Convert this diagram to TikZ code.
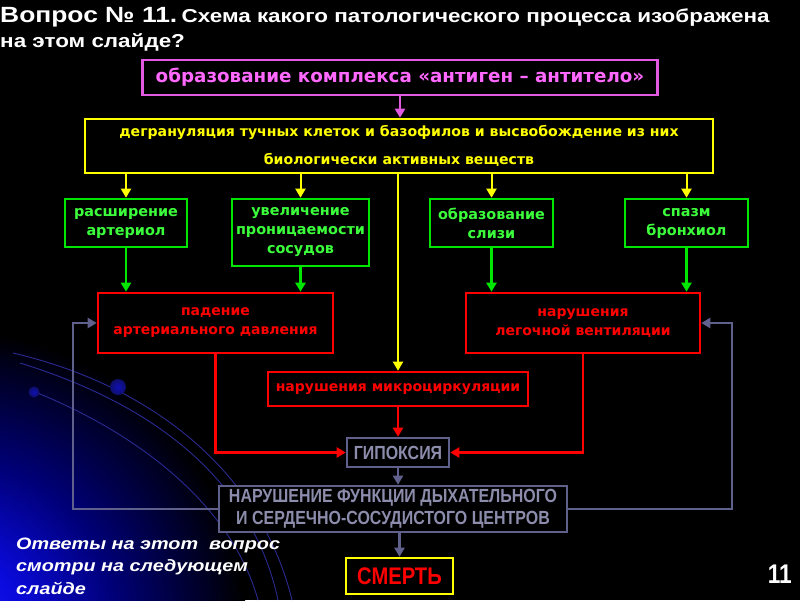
\documentclass[tikz,border=0pt]{standalone}
\usepackage{fontspec}
\setmainfont{Liberation Sans}
\newfontfamily\boxfont{DejaVu Sans}
\newfontfamily\widefont[FakeStretch=1.2]{Liberation Sans}
\newfontfamily\narrowfont[FakeStretch=0.84]{Liberation Sans}
\usetikzlibrary{arrows.meta, calc}

\definecolor{magline}{RGB}{225,90,225}
\definecolor{magtext}{RGB}{255,105,255}
\definecolor{ylw}{RGB}{255,255,0}
\definecolor{grn}{RGB}{0,230,0}
\definecolor{grntext}{RGB}{60,255,60}
\definecolor{rd}{RGB}{255,0,0}
\definecolor{slate}{RGB}{96,96,140}
\definecolor{slatetext}{RGB}{140,140,172}
\definecolor{glowa}{RGB}{25,25,255}
\definecolor{glowb}{RGB}{10,10,220}
\definecolor{glowc}{RGB}{0,0,120}
\definecolor{glowd}{RGB}{0,0,35}
\definecolor{arcblue}{RGB}{42,42,145}
\definecolor{ballblue}{RGB}{22,22,150}
\pgfdeclareradialshading{glow}{\pgfpoint{0bp}{0bp}}{color(0bp)=(glowa);
  color(6bp)=(glowb); color(14bp)=(glowc); color(22bp)=(glowd);
  color(25bp)=(black); color(50bp)=(black)}

\begin{document}
\begin{tikzpicture}[
  x=1pt, y=-1pt,
  box/.style={draw, line width=2.6pt, fill=black, align=center, inner sep=2pt,
    font=\boxfont\bfseries\fontsize{14}{19}\selectfont},
  magbox/.style={box, draw=magline, text=magtext,
    font=\boxfont\bfseries\fontsize{18.3}{20}\selectfont},
  ylwbox/.style={box, draw=ylw, text=ylw,
    font=\boxfont\bfseries\fontsize{14.1}{28}\selectfont},
  grnbox/.style={box, draw=grn, text=grntext,
    font=\boxfont\bfseries\fontsize{14.4}{19}\selectfont},
  redbox/.style={box, draw=rd, text=rd},
  slbox/.style={box, draw=slate, text=slatetext,
    font=\narrowfont\bfseries\fontsize{19}{21.5}\selectfont},
  deathbox/.style={box, draw=ylw, text=rd,
    font=\narrowfont\bfseries\fontsize{24}{24}\selectfont},
  arr/.style={-{Triangle[length=9pt, width=10pt]}, line width=2.6pt},
  swirl/.style={draw=arcblue, line width=0.9pt}
]
  \useasboundingbox (0,0) rectangle (800,600);
  \fill[black] (0,0) rectangle (800,600);

  % blue corner
  \begin{scope}
    \clip (0,0) rectangle (800,600);
    \shade[shading=glow] (-345,330) rectangle (245,920);
    \draw[swirl] (13,353) .. controls (150,385) and (260,470) .. (292,600);
    \draw[swirl] (20,363) .. controls (140,400) and (250,470) .. (278,600);
    \draw[swirl] (35,392) .. controls (130,430) and (230,500) .. (258,600);
  \end{scope}
  \shade[inner color=ballblue!70!blue, outer color=ballblue!70!black] (118,387) circle (8);
  \shade[inner color=ballblue!70!blue, outer color=ballblue!70!black] (34,392) circle (5.5);

  % title
  \node[anchor=base west, inner sep=0, text=white,
    font=\widefont\bfseries] (q1) at (0,22)
    {{\fontsize{22}{22}\selectfont Вопрос\ № 11.}
     \fontsize{18.7}{20}\selectfont Схема какого патологического процесса изображена};
  \node[anchor=base west, inner sep=0, text=white,
    font=\widefont\bfseries\fontsize{18.7}{20}\selectfont] (q2) at (0,47)
    {на этом слайде?};

  % boxes
  \node[magbox, minimum width=515, minimum height=35] (ag) at (400,77.5)
    {образование комплекса «антиген – антитело»};
  \node[ylwbox, minimum width=628, minimum height=54] (degr) at (399,146)
    {дегрануляция тучных клеток и базофилов и высвобождение из них\\
     биологически активных веществ};

  \node[grnbox, minimum width=122, minimum height=48] (g1) at (126,223)
    {расширение\\артериол};
  \node[grnbox, minimum width=137, minimum height=67] (g2) at (300.5,232.5)
    {увеличение\\проницаемости\\сосудов};
  \node[grnbox, minimum width=123, minimum height=48] (g3) at (491.5,223)
    {образование\\слизи};
  \node[grnbox, minimum width=123, minimum height=48] (g4) at (686.5,223)
    {спазм\\бронхиол};

  \node[redbox, minimum width=235, minimum height=60] (pad) at (215.5,323)
    {падение\\артериального давления};
  \node[redbox, minimum width=234, minimum height=60] (leg) at (583,323)
    {нарушения\\легочной вентиляции};
  \node[redbox, minimum width=260, minimum height=34] (micro) at (398,389)
    {нарушения микроциркуляции};

  \node[slbox, minimum width=102, minimum height=29] (hyp) at (398,452.5)
    {ГИПОКСИЯ};
  \node[slbox, minimum width=348, minimum height=46] (ctr) at (393,509)
    {НАРУШЕНИЕ ФУНКЦИИ ДЫХАТЕЛЬНОГО\\И СЕРДЕЧНО-СОСУДИСТОГО ЦЕНТРОВ};
  \node[deathbox, minimum width=107, minimum height=36] (death) at (399.5,576)
    {СМЕРТЬ};

  \coordinate (lret) at (73,323);
  \coordinate (rret) at (732,323);

  % connectors
  \draw[arr, magline] (ag.south) -- (ag.south |- degr.north);
  \foreach \g in {g1,g2,g3,g4}
    \draw[arr, ylw, line width=2pt] (\g.north |- degr.south) -- (\g.north);
  \draw[arr, ylw, line width=2pt] (micro.north |- degr.south) -- (micro.north);
  \foreach \g/\r in {g1/pad,g2/pad,g3/leg,g4/leg}
    \draw[arr, grn] (\g.south) -- (\g.south |- \r.north);
  \draw[arr, rd] (pad.south) |- (hyp.west);
  \draw[arr, rd] (leg.south) |- (hyp.east);
  \draw[arr, rd] (micro.south) -- (hyp.north);
  \draw[arr, slate] (hyp.south) -- (hyp.south |- ctr.north);
  \draw[arr, slate] (death.north |- ctr.south) -- (death.north);
  \draw[arr, slate] (ctr.west) -| (lret) -- (pad.west);
  \draw[arr, slate] (ctr.east) -| (rret) -- (leg.east);

  % notes
  \node[anchor=base west, inner sep=0, align=left, text=white,
    font=\widefont\bfseries\itshape\fontsize{16.5}{22.3}\selectfont] (note) at (16,594)
    {Ответы на этот \ вопрос\\смотри на следующем\\слайде};
  \node[anchor=base east, inner sep=0, text=white,
    font=\narrowfont\bfseries\fontsize{27}{27}\selectfont] (pg) at (792,583) {11};
\end{tikzpicture}
\end{document}
